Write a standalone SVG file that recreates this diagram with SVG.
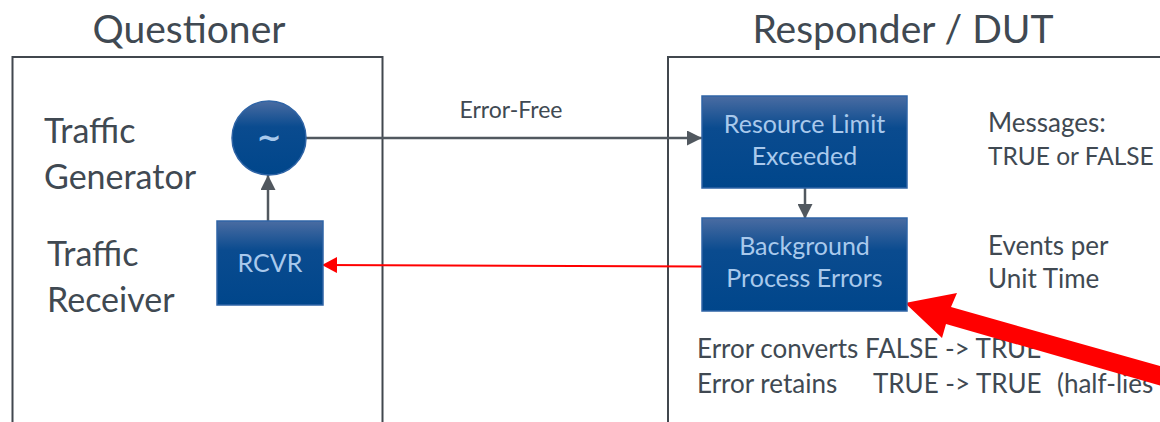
<svg xmlns="http://www.w3.org/2000/svg" width="1160" height="422" viewBox="0 0 1160 422">
  <defs>
    <style>
      .lbl { font-family: Lato, "Open Sans", "Liberation Sans", sans-serif; fill: #404952; }
      .title { font-size: 39px; text-anchor: middle; }
      .side { font-size: 34px; }
      .note { font-size: 26px; }
      .tight { font-size: 24.5px; }
      .small { font-size: 23px; }
      .box { fill: url(#boxFill); stroke: #2f64a6; stroke-width: 1.5; }
      .boxtxt { font-family: Lato, "Open Sans", "Liberation Sans", sans-serif; font-size: 25px; fill: #a9c9ec; text-anchor: middle; }
      .tilde { font-family: "DejaVu Sans", sans-serif; font-weight: bold; font-size: 30px; }
      .frame { fill: none; stroke: #41474e; stroke-width: 2; }
      .wire { fill: none; stroke: #51585f; stroke-width: 2.5; }
      .redwire { fill: none; stroke: #ff0000; stroke-width: 2; }
    </style>
    <linearGradient id="boxFill" x1="0" y1="0" x2="0" y2="1">
      <stop offset="0" stop-color="#4a6ca2"/>
      <stop offset="0.35" stop-color="#0a4b8f"/>
      <stop offset="1" stop-color="#00468b"/>
    </linearGradient>
    <marker id="grayHead" markerUnits="userSpaceOnUse" viewBox="0 0 15 15" refX="15" refY="7.5" markerWidth="15" markerHeight="15" orient="auto">
      <path d="M0,0 L15,7.5 L0,15 Z" fill="#51585f"/>
    </marker>
    <marker id="redHead" markerUnits="userSpaceOnUse" viewBox="0 0 15 16" refX="15" refY="8" markerWidth="15" markerHeight="16" orient="auto">
      <path d="M0,0 L15,8 L0,16 Z" fill="#ff0000"/>
    </marker>
  </defs>

  <rect width="1160" height="422" fill="#ffffff"/>

  <!-- side frames -->
  <g id="questioner">
    <rect class="frame" x="12.5" y="57" width="370" height="400"/>
    <text class="lbl title" x="189" y="43">Questioner</text>
    <text class="lbl side" x="44" y="143">Traffic</text>
    <text class="lbl side" x="44" y="189">Generator</text>
    <text class="lbl side" x="47" y="266">Traffic</text>
    <text class="lbl side" x="47" y="312">Receiver</text>
  </g>

  <g id="responder">
    <rect class="frame" x="668" y="57" width="600" height="400"/>
    <text class="lbl title" x="903" y="43">Responder / DUT</text>
    <text class="lbl note" x="988" y="132">Messages:</text>
    <text class="lbl tight" x="988" y="165">TRUE or FALSE</text>
    <text class="lbl note" x="988" y="255">Events per</text>
    <text class="lbl note" x="988" y="288">Unit Time</text>
    <text class="lbl note" x="697" y="358">Error converts FALSE -&gt; TRUE</text>
    <text class="lbl note" y="393"><tspan x="697">Error retains</tspan><tspan x="873">TRUE -&gt; TRUE</tspan><tspan x="1057">(half-lies</tspan></text>
  </g>

  <!-- connectors -->
  <g id="connectors">
    <line class="wire" x1="306" y1="138" x2="702" y2="138" marker-end="url(#grayHead)"/>
    <text class="lbl small" x="511" y="118" text-anchor="middle">Error-Free</text>
    <line class="wire" x1="268" y1="221" x2="268" y2="175" marker-end="url(#grayHead)"/>
    <line class="wire" x1="805" y1="188" x2="805" y2="219" marker-end="url(#grayHead)"/>
    <line class="redwire" x1="702" y1="266.5" x2="322" y2="265" marker-end="url(#redHead)"/>
    <polygon fill="#ff0000" points="905,303 957,293 951,307 1202,378 1197,396 946,324 942,338"/>
  </g>

  <!-- nodes -->
  <g id="generator">
    <circle class="box" cx="269" cy="138" r="37"/>
    <text class="boxtxt tilde" x="269" y="148">~</text>
  </g>
  <g id="rcvr">
    <rect class="box" x="217" y="221" width="106" height="84"/>
    <text class="boxtxt" x="270" y="272">RCVR</text>
  </g>
  <g id="resource-limit">
    <rect class="box" x="702" y="96" width="205" height="92"/>
    <text class="boxtxt" x="804.5" y="133">Resource Limit</text>
    <text class="boxtxt" x="804.5" y="165">Exceeded</text>
  </g>
  <g id="background-errors">
    <rect class="box" x="702" y="218" width="205" height="93"/>
    <text class="boxtxt" x="804.5" y="255">Background</text>
    <text class="boxtxt" x="804.5" y="287">Process Errors</text>
  </g>
</svg>
